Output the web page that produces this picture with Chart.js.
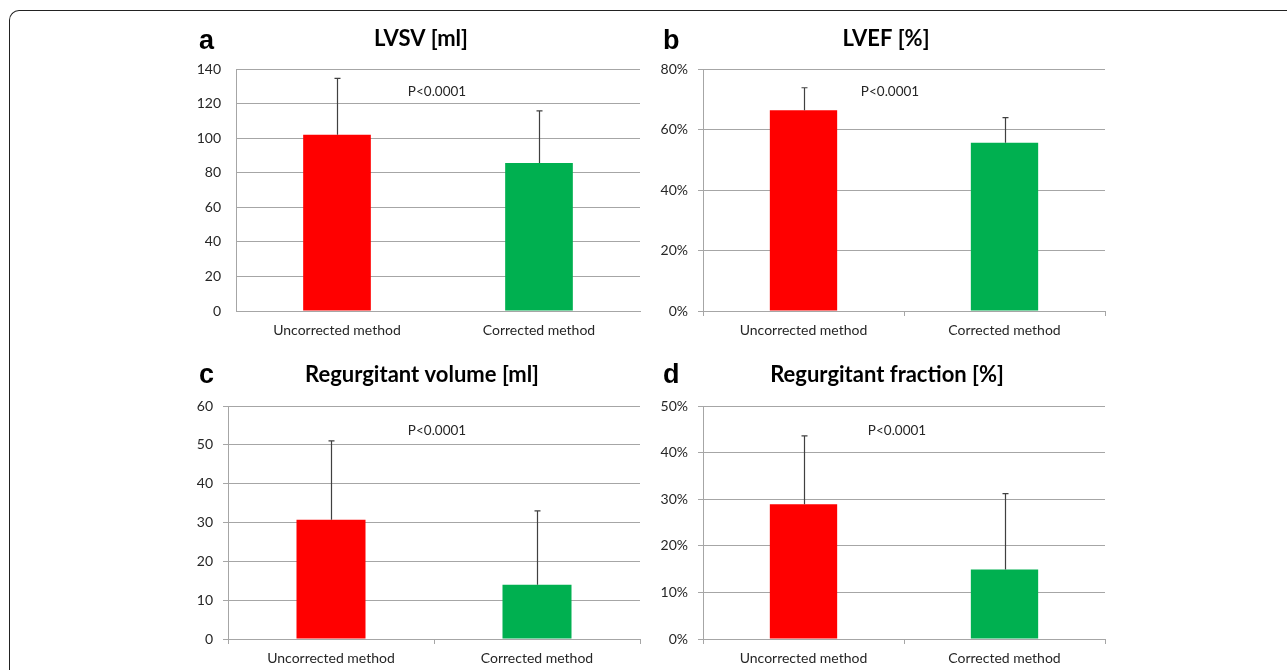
<!DOCTYPE html>
<html>
<head>
<meta charset="utf-8">
<script src="https://cdn.jsdelivr.net/npm/chart.js@4.4.1/dist/chart.umd.min.js"></script>
<style>
  html, body { margin: 0; padding: 0; background: #fff; }
  body { width: 1287px; height: 670px; position: relative; overflow: hidden; }
  .frame {
    position: absolute; left: 9px; top: 10px; width: 1400px; height: 800px;
    border-left: 1.5px solid #222; border-top: 1.5px solid #222;
    border-top-left-radius: 10px;
  }
  canvas { position: absolute; }
</style>
</head>
<body>
<div class="frame"></div>
<canvas id="panelA"></canvas>
<canvas id="panelB"></canvas>
<canvas id="panelC"></canvas>
<canvas id="panelD"></canvas>
<script>
const categories = ['Uncorrected method', 'Corrected method'];

// LVSV [ml]
const lvsvMean = [102, 85.6];
const lvsvSd = [32.6, 30.2];
// LVEF [%]
const lvefMean = [66.4, 55.6];
const lvefSd = [7.4, 8.3];
// Regurgitant volume [ml]
const rvMean = [30.7, 14.0];
const rvSd = [20.3, 19.0];
// Regurgitant fraction [%]
const rfMean = [28.9, 14.9];
const rfSd = [14.7, 16.3];

const pLabel = 'P<0.0001';
const barColors = ['#ff0000', '#00b050'];
const gridColor = '#a6a6a6';
const textColor = '#262626';
const fontFamily = 'Lato, "Open Sans", sans-serif';

const panels = [
  { id: 'panelA', letter: 'a', title: 'LVSV [ml]', mean: lvsvMean, sd: lvsvSd, max: 140, step: 20, pct: false,
    ticks: false, box: [160, 20, 485, 330], yWidth: 76, padTop: 49, xHeight: 39, padRight: 5,
    letterPos: [39, 29], titlePos: [261, 26], pPos: [277, 76] },
  { id: 'panelB', letter: 'b', title: 'LVEF [%]', mean: lvefMean, sd: lvefSd, max: 80, step: 20, pct: true,
    ticks: true, box: [645, 20, 480, 330], yWidth: 58, padTop: 49, xHeight: 39, padRight: 20,
    letterPos: [18, 29], titlePos: [241, 26], pPos: [245, 76] },
  { id: 'panelC', letter: 'c', title: 'Regurgitant volume [ml]', mean: rvMean, sd: rvSd, max: 60, step: 10, pct: false,
    ticks: true, box: [160, 350, 485, 320], yWidth: 68, padTop: 56, xHeight: 31, padRight: 5,
    letterPos: [39, 33], titlePos: [262, 32], pPos: [277, 85] },
  { id: 'panelD', letter: 'd', title: 'Regurgitant fraction [%]', mean: rfMean, sd: rfSd, max: 50, step: 10, pct: true,
    ticks: true, box: [645, 350, 480, 320], yWidth: 58, padTop: 56, xHeight: 31, padRight: 20,
    letterPos: [18, 33], titlePos: [242, 32], pPos: [252, 85] }
];

// error bars (mean + SD) and panel texts
const extras = {
  id: 'extras',
  afterDatasetsDraw(chart, args, opts) {
    const ctx = chart.ctx;
    const y = chart.scales.y;
    const meta = chart.getDatasetMeta(0);
    ctx.save();
    ctx.strokeStyle = '#404040';
    ctx.lineWidth = 1.2;
    meta.data.forEach((bar, i) => {
      const top = y.getPixelForValue(opts.mean[i] + opts.sd[i]);
      const x = Math.round(bar.x) + 0.5;
      ctx.beginPath();
      ctx.moveTo(x, bar.y);
      ctx.lineTo(x, top);
      ctx.moveTo(x - 3, top);
      ctx.lineTo(x + 3, top);
      ctx.stroke();
    });
    ctx.fillStyle = '#000';
    ctx.textBaseline = 'alphabetic';
    ctx.textAlign = 'left';
    ctx.font = 'bold 27px "Liberation Sans", Arial, sans-serif';
    ctx.fillText(opts.letter, opts.letterPos[0], opts.letterPos[1]);
    ctx.textAlign = 'center';
    ctx.font = 'bold 22px ' + fontFamily;
    ctx.fillText(opts.title, opts.titlePos[0], opts.titlePos[1]);
    ctx.fillStyle = textColor;
    ctx.font = '13.5px ' + fontFamily;
    ctx.fillText(pLabel, opts.pPos[0], opts.pPos[1]);
    ctx.restore();
  }
};

panels.forEach(p => {
  const el = document.getElementById(p.id);
  el.style.left = p.box[0] + 'px';
  el.style.top = p.box[1] + 'px';
  el.style.width = p.box[2] + 'px';
  el.style.height = p.box[3] + 'px';
  el.width = p.box[2];
  el.height = p.box[3];

  new Chart(el, {
    type: 'bar',
    data: {
      labels: categories,
      datasets: [{
        data: p.mean,
        backgroundColor: barColors,
        borderWidth: 0,
        categoryPercentage: 1,
        barPercentage: 0.335
      }]
    },
    options: {
      responsive: false,
      animation: false,
      events: [],
      layout: { padding: { top: p.padTop, right: p.padRight, left: 0, bottom: 0 } },
      plugins: {
        legend: { display: false },
        tooltip: { enabled: false },
        extras: p
      },
      scales: {
        x: {
          grid: { drawOnChartArea: false, drawTicks: p.ticks, tickLength: 5, color: gridColor },
          border: { color: gridColor, width: 1 },
          ticks: { color: textColor, font: { family: fontFamily, size: 14 }, padding: p.ticks ? 6 : 11, maxRotation: 0 },
          afterFit: s => { s.height = p.xHeight; }
        },
        y: {
          min: 0, max: p.max,
          grid: { color: gridColor, drawTicks: p.ticks, tickLength: 5 },
          border: { color: gridColor, width: 1 },
          ticks: {
            stepSize: p.step,
            color: textColor,
            font: { family: fontFamily, size: 14 },
            padding: p.ticks ? 10 : 15,
            callback: v => p.pct ? v + '%' : v
          },
          afterFit: s => { s.width = p.yWidth; }
        }
      }
    },
    plugins: [extras]
  });
});
</script>
</body>
</html>
